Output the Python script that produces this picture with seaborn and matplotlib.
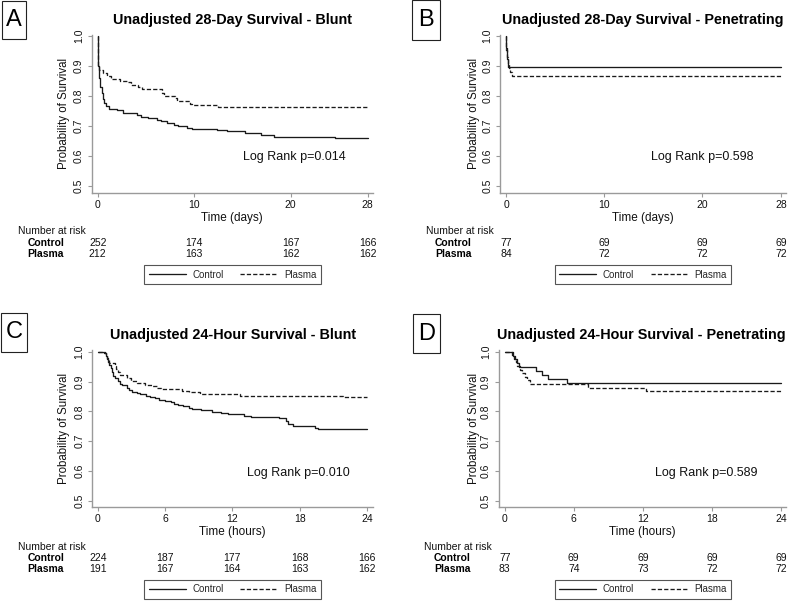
import numpy as np
import pandas as pd
import matplotlib
matplotlib.use("Agg")
import matplotlib.pyplot as plt
import matplotlib.transforms as mtransforms
from matplotlib.patches import Rectangle
import seaborn as sns

# ---------------- data ----------------
groups = ["Control", "Plasma"]

# A: 28-day, blunt (days)
a_ctrl_t = [0, 0.03, 0.08, 0.15, 0.25, 0.4, 0.55, 0.7, 0.9, 1.2, 2.0, 2.6, 4.1, 4.5, 5.2,
            6.1, 6.6, 7.2, 7.9, 8.3, 9.3, 9.8, 12.4, 13.4, 15.3, 16.9, 18.3, 24.6, 28]
a_ctrl_s = [1.0, 0.95, 0.90, 0.86, 0.83, 0.81, 0.79, 0.775, 0.765, 0.758, 0.752, 0.743, 0.737,
            0.731, 0.726, 0.721, 0.716, 0.711, 0.704, 0.699, 0.694, 0.690, 0.686, 0.682,
            0.675, 0.671, 0.663, 0.659, 0.659]
a_plas_t = [0, 0.02, 0.05, 0.15, 0.5, 1.0, 1.4, 2.3, 3.0, 3.5, 4.2, 4.6, 6.7, 6.9, 8.0, 8.2,
            9.6, 9.8, 12.5, 28]
a_plas_s = [1.0, 0.93, 0.90, 0.885, 0.875, 0.866, 0.858, 0.851, 0.846, 0.838, 0.829, 0.822,
            0.811, 0.801, 0.792, 0.783, 0.774, 0.769, 0.764, 0.764]

# B: 28-day, penetrating (days)
b_ctrl_t = [0, 0.04, 0.08, 0.12, 0.18, 0.25, 28]
b_ctrl_s = [1.0, 0.961, 0.935, 0.922, 0.909, 0.896, 0.896]
b_plas_t = [0, 0.05, 0.1, 0.2, 0.3, 0.45, 0.6, 28]
b_plas_s = [1.0, 0.952, 0.929, 0.905, 0.893, 0.88, 0.868, 0.868]

# C: 24-hour, blunt (hours)
c_ctrl_t = [0, 0.55, 0.7, 0.8, 0.9, 1.0, 1.15, 1.3, 1.4, 1.55, 1.8, 2.0, 2.2, 2.6, 2.8, 3.1,
            3.5, 3.8, 4.3, 4.7, 5.1, 5.5, 6.0, 6.5, 6.8, 7.2, 7.6, 8.1, 8.4, 9.2, 10.2, 11.0,
            11.6, 13.0, 13.7, 16.2, 16.8, 17.0, 17.4, 19.4, 19.6, 24]
c_ctrl_s = [1.0, 0.996, 0.987, 0.978, 0.964, 0.955, 0.946, 0.933, 0.92, 0.911, 0.902, 0.893,
            0.888, 0.879, 0.871, 0.866, 0.862, 0.857, 0.853, 0.848, 0.844, 0.839, 0.835,
            0.83, 0.826, 0.821, 0.817, 0.812, 0.808, 0.804, 0.799, 0.795, 0.79, 0.786,
            0.781, 0.777, 0.768, 0.759, 0.75, 0.746, 0.741, 0.741]
c_plas_t = [0, 0.65, 0.75, 0.85, 1.0, 1.5, 1.65, 1.8, 2.0, 2.6, 3.0, 3.5, 4.2, 4.8, 5.3, 5.6,
            7.5, 8.1, 9.1, 12.7, 21.9, 24]
c_plas_s = [1.0, 0.995, 0.984, 0.974, 0.963, 0.953, 0.942, 0.932, 0.921, 0.911, 0.901, 0.895,
            0.89, 0.885, 0.88, 0.874, 0.869, 0.864, 0.859, 0.853, 0.848, 0.848]

# D: 24-hour, penetrating (hours)
d_ctrl_t = [0, 0.75, 0.9, 1.05, 1.2, 2.7, 3.2, 3.8, 5.4, 24]
d_ctrl_s = [1.0, 0.987, 0.974, 0.961, 0.948, 0.935, 0.922, 0.909, 0.896, 0.896]
d_plas_t = [0, 0.6, 0.85, 1.0, 1.1, 1.3, 1.5, 1.75, 1.95, 2.2, 7.2, 12.3, 24]
d_plas_s = [1.0, 0.988, 0.976, 0.964, 0.952, 0.94, 0.928, 0.916, 0.904, 0.892, 0.88, 0.867, 0.867]

titles = ["Unadjusted 28-Day Survival - Blunt",
          "Unadjusted 28-Day Survival - Penetrating",
          "Unadjusted 24-Hour Survival - Blunt",
          "Unadjusted 24-Hour Survival - Penetrating"]
panel_letters = ["A", "B", "C", "D"]
xlabels = ["Time (days)", "Time (days)", "Time (hours)", "Time (hours)"]
xticks_days = [0, 10, 20, 28]
xticks_hours = [0, 6, 12, 18, 24]
pvalues = ["Log Rank p=0.014", "Log Rank p=0.598", "Log Rank p=0.010", "Log Rank p=0.589"]

risk_a = {"Control": [252, 174, 167, 166], "Plasma": [212, 163, 162, 162]}
risk_b = {"Control": [77, 69, 69, 69], "Plasma": [84, 72, 72, 72]}
risk_c = {"Control": [224, 187, 177, 168, 166], "Plasma": [191, 167, 164, 163, 162]}
risk_d = {"Control": [77, 69, 69, 69, 69], "Plasma": [83, 74, 73, 72, 72]}

curves = [
    ((a_ctrl_t, a_ctrl_s), (a_plas_t, a_plas_s)),
    ((b_ctrl_t, b_ctrl_s), (b_plas_t, b_plas_s)),
    ((c_ctrl_t, c_ctrl_s), (c_plas_t, c_plas_s)),
    ((d_ctrl_t, d_ctrl_s), (d_plas_t, d_plas_s)),
]
risks = [risk_a, risk_b, risk_c, risk_d]
xticks_all = [xticks_days, xticks_days, xticks_hours, xticks_hours]

# ---------------- layout (pixel geometry) ----------------
sns.set_theme(style="ticks")
plt.rcParams["font.family"] = ["Liberation Sans", "DejaVu Sans"]
plt.rcParams["axes.linewidth"] = 1.0

W, H = 800, 614
fig = plt.figure(figsize=(8, 6.14), dpi=100)
fig.patch.set_facecolor("white")

def fx(px):
    return px / W

def fy(py):
    return 1 - py / H

# left, right, top, bottom, x0px, xendpx, y1px, y05px
geom = [
    (91.7, 372.7, 34.5, 192.7, 97.7, 367.7, 36.0, 186.0),
    (500.0, 786.0, 34.5, 192.7, 506.0, 781.0, 36.0, 186.0),
    (92.0, 373.0, 350.0, 506.7, 97.7, 367.0, 351.7, 501.0),
    (498.7, 786.0, 350.0, 506.7, 504.7, 781.0, 351.7, 501.0),
]
title_pos = [(232.5, 20), (643, 20), (233, 335), (641, 335)]
ylab_x = [64.3, 474, 64.3, 474]
pval_pos = [(294, 157), (702, 157), (298, 472.7), (706, 472.7)]
risk_rows = [(231, 242.5, 254), (231, 242.5, 254), (546.7, 557.7, 569.3), (546.7, 557.7, 569.3)]
risk_head_x = [18, 426, 18, 424]
risk_lab_x = [64, 471.7, 64, 470.7]
legend_pos = [(232.5, 274.5), (643, 274.5), (232.5, 589.5), (643, 589.5)]
letter_box = [(2, 1, 26, 39), (411.7, 0.5, 440, 40), (1, 313, 27, 352), (413, 314, 440, 353)]

line_col = "#1a1a1a"
spine_col = "#9a9a9a"

for i in range(4):
    left, right, top, bottom, x0, xe, y1, y05 = geom[i]
    xend = xticks_all[i][-1]
    kx = (xe - x0) / xend
    ky = (y05 - y1) / 0.5
    ax = fig.add_axes([fx(left), fy(bottom), (right - left) / W, (bottom - top) / H])
    ax.set_xlim((left - x0) / kx, (right - x0) / kx)
    ax.set_ylim(1 - (bottom - y1) / ky, 1 - (top - y1) / ky)

    frames = []
    for g, (t, s) in zip(groups, curves[i]):
        frames.append(pd.DataFrame({"time": t, "surv": s, "group": g}))
    df = pd.concat(frames, ignore_index=True)

    sns.lineplot(data=df, x="time", y="surv", hue="group", style="group",
                 palette={"Control": line_col, "Plasma": line_col},
                 dashes={"Control": "", "Plasma": (3.2, 1.6)},
                 drawstyle="steps-post", estimator=None, sort=False,
                 linewidth=0.95, ax=ax)

    sns.despine(ax=ax)
    for sp in ["left", "bottom"]:
        ax.spines[sp].set_color(spine_col)
        ax.spines[sp].set_linewidth(1.0)
    ax.set_xticks(xticks_all[i])
    ax.set_yticks([0.5, 0.6, 0.7, 0.8, 0.9, 1.0])
    ax.set_yticklabels(["0.5", "0.6", "0.7", "0.8", "0.9", "1.0"])
    ax.tick_params(axis="both", length=3, width=0.8, color=spine_col, pad=2.5,
                   labelsize=7.5, labelcolor="#111111")
    ax.tick_params(axis="y", labelrotation=90)
    for lab in ax.get_yticklabels():
        lab.set_va("center")
    ax.set_xlabel("")
    ax.set_ylabel("")

    # axis titles
    fig.text(fx((left + right) / 2), fy(bottom + 25.5), xlabels[i], ha="center",
             va="center", fontsize=8.5, color="#111111")
    fig.text(fx(ylab_x[i]), fy((top + bottom) / 2), "Probability of Survival", rotation=90,
             ha="center", va="center", fontsize=8.3, color="#111111")
    fig.text(fx(title_pos[i][0]), fy(title_pos[i][1]), titles[i], ha="center", va="center",
             fontsize=10.4, fontweight="bold", color="black")
    fig.text(fx(pval_pos[i][0]), fy(pval_pos[i][1]), pvalues[i], ha="center", va="center",
             fontsize=9, color="#111111")

    # number at risk table
    trans = mtransforms.blended_transform_factory(ax.transData, fig.transFigure)
    ry = risk_rows[i]
    fig.text(fx(risk_head_x[i]), fy(ry[0]), "Number at risk", ha="left", va="center",
             fontsize=7.5, color="#111111")
    for g, yy in zip(groups, ry[1:]):
        fig.text(fx(risk_lab_x[i]), fy(yy), g, ha="right", va="center", fontsize=7.5,
                 fontweight="bold", color="black")
        for xv, n in zip(xticks_all[i], risks[i][g]):
            ax.text(xv, fy(yy), str(n), transform=trans, ha="center", va="center",
                    fontsize=7.5, color="#111111", clip_on=False)

    # legend
    sns.move_legend(ax, loc="center", bbox_to_anchor=(fx(legend_pos[i][0]), fy(legend_pos[i][1])),
                    bbox_transform=fig.transFigure, ncol=2, title=None, frameon=True,
                    fontsize=7, handlelength=3.8, handletextpad=0.7, columnspacing=1.7,
                    borderpad=0.45, borderaxespad=0, fancybox=False, framealpha=1)
    leg = ax.get_legend()
    leg.get_frame().set_edgecolor("#555555")
    leg.get_frame().set_linewidth(0.8)
    for h in leg.get_lines():
        h.set_linewidth(0.95)

    # panel letter box
    bx0, by0, bx1, by1 = letter_box[i]
    fig.patches.append(Rectangle((fx(bx0), fy(by1)), (bx1 - bx0) / W, (by1 - by0) / H,
                                 transform=fig.transFigure, fill=False, edgecolor="#222222",
                                 linewidth=0.8))
    fig.text(fx((bx0 + bx1) / 2), fy((by0 + by1) / 2), panel_letters[i], ha="center",
             va="center", fontsize=17, color="black")

fig.savefig("out.png", dpi=100, facecolor="white")
